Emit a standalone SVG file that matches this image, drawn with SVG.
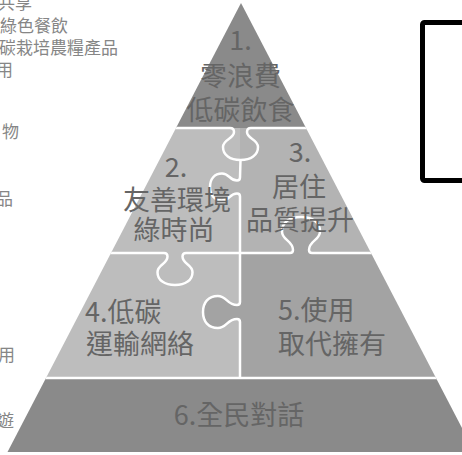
<svg xmlns="http://www.w3.org/2000/svg" width="462" height="455" viewBox="0 0 462 455">
<style>
.t{font-family:"Noto Sans CJK TC","Noto Sans CJK SC",sans-serif;font-size:27px;fill:#656565}
.side{font-family:"Noto Sans CJK TC","Noto Sans CJK SC",sans-serif;font-size:17px;fill:#868686}
.line{fill:none;stroke:#ffffff;stroke-width:2.5}
.dark{fill:#8a8a8a}
.light{fill:#bdbdbd}
.mid{fill:#b3b3b3}
.med{fill:#a3a3a3}
</style>
<defs>
<clipPath id="tri"><polygon points="241,3 7.5,452 474.5,452"/></clipPath>
</defs>
<rect width="462" height="455" fill="#ffffff"/>
<g id="side-notes">
<text class="side" x="-2" y="9">共享</text>
<text class="side" x="0" y="32">綠色餐飲</text>
<text class="side" x="-1" y="54">碳栽培農糧產品</text>
<text class="side" x="-4" y="76">用</text>
<text class="side" x="2" y="138">物</text>
<text class="side" x="-4" y="205">品</text>
<text class="side" x="-2" y="361">用</text>
<text class="side" x="-3" y="427">遊</text>
</g>
<g clip-path="url(#tri)">
<g id="node-1">
<rect class="dark" x="0" y="0" width="462" height="128"/>
<path class="dark" d="M230 127 L230 128 Q234 128 234 132 C234 139 223 139 223 147 C223 155 230 160 240.5 160 C251 160 258 155 258 147 C258 139 247 139 247 132 Q247 128 251 128 L251 127 Z"/>
</g>
<g id="node-2">
<rect class="light" x="0" y="128" width="240" height="125"/>
<path class="light" d="M164 252 L164 253 Q167.5 253 167.5 256.5 C167.5 264.2 157.5 264.2 157.5 272.2 C157.5 280.2 164.5 285 175 285 C185.5 285 192.5 280.2 192.5 272.2 C192.5 264.2 182.5 264.2 182.5 256.5 Q182.5 253 186 253 L186 252 Z"/>
</g>
<g id="node-3">
<rect class="mid" x="240" y="128" width="240" height="125"/>
<path class="mid" d="M241 177.5 L240 177.5 Q240 180.5 237 180.5 C229.5 180.5 229.5 173.5 222 173.5 C214.5 173.5 210 178.9 210 187 C210 195.1 214.5 200.5 222 200.5 C229.5 200.5 229.5 193.5 237 193.5 Q240 193.5 240 196.5 L241 196.5 Z"/>
</g>
<g id="node-4">
<rect class="light" x="0" y="253" width="240" height="125"/>
</g>
<g id="node-5">
<rect class="med" x="240" y="253" width="240" height="125"/>
<path class="med" d="M290 254 L290 253 Q293 253 293 250 C293 240.4 282 240.4 282 231.4 C282 222.4 289.6 217 301 217 C312.4 217 320 222.4 320 231.4 C320 240.4 309 240.4 309 250 Q309 253 312 253 L312 254 Z"/>
<path class="med" d="M241 302 L240 302 Q240 305 237 305 C227 305 227 296 217.8 296 C208.5 296 203 302.4 203 312 C203 321.6 208.5 328 217.8 328 C227 328 227 319 237 319 Q240 319 240 322 L241 322 Z"/>
</g>
<g id="node-6">
<rect class="dark" x="0" y="378" width="480" height="80"/>
</g>
<g id="outlines">
<path class="line" d="M-5 128 H230 Q234 128 234 132 C234 139 223 139 223 147 C223 155 230 160 240.5 160 C251 160 258 155 258 147 C258 139 247 139 247 132 Q247 128 251 128 H480"/>
<path class="line" d="M240.5 160 L240 177.5 Q240 180.5 237 180.5 C229.5 180.5 229.5 173.5 222 173.5 C214.5 173.5 210 178.9 210 187 C210 195.1 214.5 200.5 222 200.5 C229.5 200.5 229.5 193.5 237 193.5 Q240 193.5 240 196.5 V253"/>
<path class="line" d="M-5 253 H164 Q167.5 253 167.5 256.5 C167.5 264.2 157.5 264.2 157.5 272.2 C157.5 280.2 164.5 285 175 285 C185.5 285 192.5 280.2 192.5 272.2 C192.5 264.2 182.5 264.2 182.5 256.5 Q182.5 253 186 253 H290 Q293 253 293 250 C293 240.4 282 240.4 282 231.4 C282 222.4 289.6 217 301 217 C312.4 217 320 222.4 320 231.4 C320 240.4 309 240.4 309 250 Q309 253 312 253 H480"/>
<path class="line" d="M240 253 V302 Q240 305 237 305 C227 305 227 296 217.8 296 C208.5 296 203 302.4 203 312 C203 321.6 208.5 328 217.8 328 C227 328 227 319 237 319 Q240 319 240 322 V378"/>
<path class="line" d="M-5 378 H480"/>
</g>
</g>
<g id="labels">
<text class="t" x="240.5" y="50" text-anchor="middle">1.</text>
<text class="t" x="240.5" y="86" text-anchor="middle">零浪費</text>
<text class="t" x="240.5" y="120" text-anchor="middle">低碳飲食</text>
<text class="t" x="176" y="177" text-anchor="middle">2.</text>
<text class="t" x="177" y="210" text-anchor="middle">友善環境</text>
<text class="t" x="174" y="240" text-anchor="middle">綠時尚</text>
<text class="t" x="300" y="162" text-anchor="middle">3.</text>
<text class="t" x="299" y="197" text-anchor="middle">居住</text>
<text class="t" x="300" y="230" text-anchor="middle">品質提升</text>
<text class="t" x="85" y="322">4.低碳</text>
<text class="t" x="86" y="354">運輸網絡</text>
<text class="t" x="278" y="320">5.使用</text>
<text class="t" x="278" y="354">取代擁有</text>
<text class="t" x="239" y="425" text-anchor="middle">6.全民對話</text>
</g>
<g id="frame">
<rect x="422.5" y="22.5" width="60" height="158" rx="2" fill="none" stroke="#000000" stroke-width="5"/>
</g>
</svg>
